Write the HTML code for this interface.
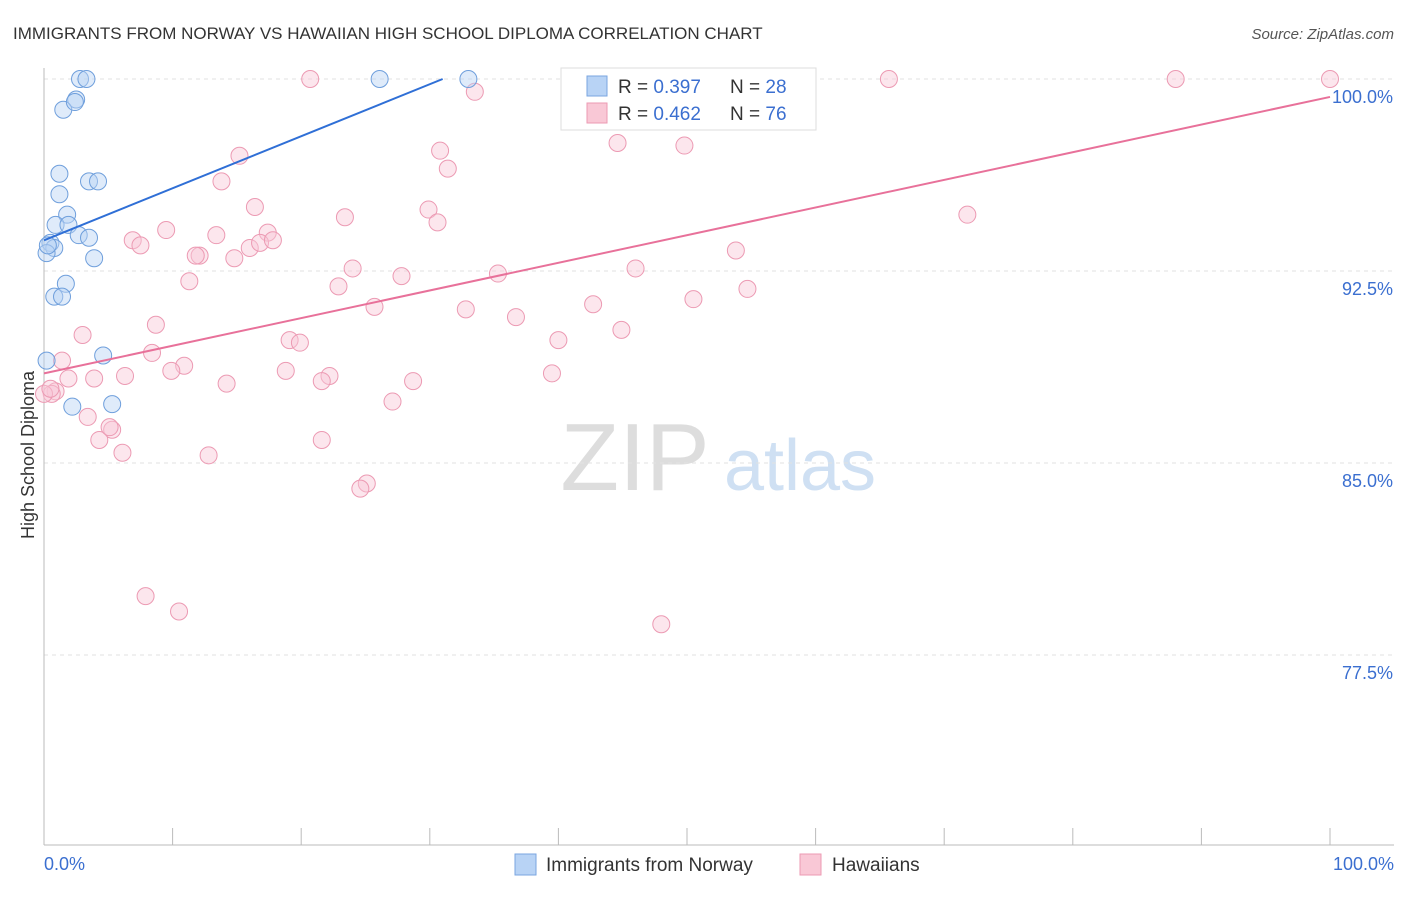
<!DOCTYPE html>
<html><head><meta charset="utf-8"><style>
body{margin:0;background:#fff;font-family:"Liberation Sans",sans-serif;}
svg text{font-family:"Liberation Sans",sans-serif;}
</style></head><body>
<svg width="1406" height="892" viewBox="0 0 1406 892" id="chart">
<text x="13" y="39" font-size="17" fill="#333">IMMIGRANTS FROM NORWAY VS HAWAIIAN HIGH SCHOOL DIPLOMA CORRELATION CHART</text>
<text x="1394" y="39" font-size="15" fill="#555" font-style="italic" text-anchor="end">Source: ZipAtlas.com</text>
<g><text x="635" y="490" font-size="96" fill="#ddd" font-family="Liberation Serif,serif" text-anchor="middle">ZIP</text><text x="800" y="490" font-size="72" fill="#cfe0f3" text-anchor="middle">atlas</text></g>
<g id="grid"></g><g id="axes"></g><g id="marks"></g>
<text transform="translate(34,455) rotate(-90)" font-size="18" fill="#333" text-anchor="middle">High School Diploma</text>
<text x="44" y="870" font-size="18" fill="#3b6fd0">0.0%</text>
<text x="1394" y="870" font-size="18" fill="#3b6fd0" text-anchor="end">100.0%</text>
<g>
<rect x="561" y="68" width="255" height="62" fill="#fff" stroke="#ddd"/>
<rect x="587" y="76" width="20" height="20" fill="#b8d3f5" stroke="#7aa6e0"/>
<text x="618" y="93" font-size="19" fill="#333">R = <tspan fill="#3b6fd0">0.397</tspan></text>
<text x="730" y="93" font-size="19" fill="#333">N = <tspan fill="#3b6fd0">28</tspan></text>
<rect x="587" y="103" width="20" height="20" fill="#f9c8d6" stroke="#ec9ab3"/>
<text x="618" y="120" font-size="19" fill="#333">R = <tspan fill="#3b6fd0">0.462</tspan></text>
<text x="730" y="120" font-size="19" fill="#333">N = <tspan fill="#3b6fd0">76</tspan></text>
</g>
<g>
<rect x="515" y="854" width="21" height="21" fill="#b8d3f5" stroke="#7aa6e0"/>
<text x="546" y="871" font-size="19" fill="#333">Immigrants from Norway</text>
<rect x="800" y="854" width="21" height="21" fill="#f9c8d6" stroke="#ec9ab3"/>
<text x="832" y="871" font-size="19" fill="#333">Hawaiians</text>
</g>
</svg>
<script>
const yTicks=[100,92.5,85,77.5];
const yTickLabels=["100.0%","92.5%","85.0%","77.5%"];
const xTicks=[0,10,20,30,40,50,60,70,80,90,100];
const blueX=[2.8,3.3,26.1,33.0,2.5,1.5,1.2,1.2,3.5,4.2,1.8,0.9,1.9,2.7,3.5,0.5,0.8,0.2,3.9,1.7,0.8,1.4,0.2,4.6,2.2,5.3,0.3,2.4];
const blueY=[100,100,100,100,99.2,98.8,96.3,95.5,96.0,96.0,94.7,94.3,94.3,93.9,93.8,93.6,93.4,93.2,93.0,92.0,91.5,91.5,89.0,89.2,87.2,87.3,93.5,99.1];
const pinkX=[20.7,65.7,88.0,100,33.5,44.6,49.8,30.8,15.2,31.4,13.8,16.4,29.9,71.8,23.4,30.6,9.5,17.4,13.4,6.9,7.5,16.0,16.8,17.8,12.1,11.8,14.8,53.8,24.0,46.0,35.3,27.8,11.3,22.9,54.7,50.5,42.7,25.7,32.8,36.7,8.7,44.9,3.0,19.1,19.9,40.0,8.4,10.9,1.4,9.9,39.5,18.8,6.3,22.2,3.9,1.9,21.6,28.7,14.2,0.9,0.6,3.4,27.1,5.3,4.3,21.6,6.1,12.8,25.1,24.6,7.9,10.5,48.0,0.0,0.5,5.1];
const pinkY=[100,100,100,100,99.5,97.5,97.4,97.2,97.0,96.5,96.0,95.0,94.9,94.7,94.6,94.4,94.1,94.0,93.9,93.7,93.5,93.4,93.6,93.7,93.1,93.1,93.0,93.3,92.6,92.6,92.4,92.3,92.1,91.9,91.8,91.4,91.2,91.1,91.0,90.7,90.4,90.2,90.0,89.8,89.7,89.8,89.3,88.8,89.0,88.6,88.5,88.6,88.4,88.4,88.3,88.3,88.2,88.2,88.1,87.8,87.7,86.8,87.4,86.3,85.9,85.9,85.4,85.3,84.2,84.0,79.8,79.2,78.7,87.7,87.9,86.4];
const blueLine=[0,93.7,31.0,100];
const pinkLine=[0,88.5,100,99.3];
const X0=44,X1=1330,Y100=79,PX=25.6;
const sx=v=>X0+(X1-X0)*v/100;
const sy=v=>Y100+(100-v)*PX;
const NS="http://www.w3.org/2000/svg";
function mk(p,t,a){const e=document.createElementNS(NS,t);for(const k in a)e.setAttribute(k,a[k]);p.appendChild(e);return e;}
const grid=document.getElementById('grid'),axes=document.getElementById('axes'),marks=document.getElementById('marks');
yTicks.forEach((v,i)=>{
 const l=mk(grid,'line',{x1:44,x2:1394,y1:sy(v),y2:sy(v),stroke:'#e2e2e2','stroke-dasharray':'4,4'});
 
 
 const t=mk(grid,'text',{x:1393,y:sy(v)+24,'font-size':18,fill:'#3b6fd0','text-anchor':'end'});
 t.textContent=yTickLabels[i];
 
 
});
const ya=mk(axes,'line',{x1:44,x2:44,y1:68,y2:845,stroke:'#bbb'});


const xa=mk(axes,'line',{x1:44,x2:1394,y1:845,y2:845,stroke:'#bbb'});


xTicks.forEach(v=>{const t=mk(axes,'line',{x1:sx(v),x2:sx(v),y1:828,y2:845,stroke:'#bbb'});
 
 });
function pts(xs,ys,fill,stroke,name){xs.forEach((x,i)=>{const c=mk(marks,'circle',{cx:sx(x),cy:sy(ys[i]),r:8.5,fill:fill,'fill-opacity':0.45,stroke:stroke,'stroke-width':1});
 
 });}
pts(pinkX,pinkY,'#f9c8d6','#ec9ab3','hawaiian-point');
pts(blueX,blueY,'#b8d3f5','#6f9fdc','norway-point');
const bl=mk(marks,'line',{x1:sx(blueLine[0]),y1:sy(blueLine[1]),x2:sx(blueLine[2]),y2:sy(blueLine[3]),stroke:'#2f6fd6','stroke-width':2});


const pl=mk(marks,'line',{x1:sx(pinkLine[0]),y1:sy(pinkLine[1]),x2:sx(pinkLine[2]),y2:sy(pinkLine[3]),stroke:'#e8719a','stroke-width':2});


</script>
</body></html>
